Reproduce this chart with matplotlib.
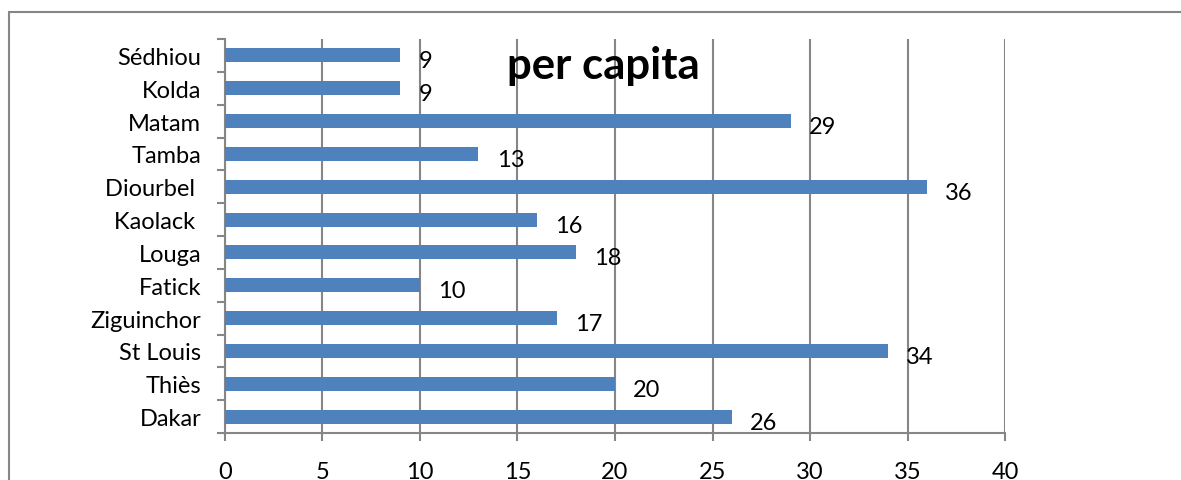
import matplotlib.pyplot as plt
import matplotlib.patches as mpatches
import numpy as np

# Regions, bottom to top as drawn
regions = ['Dakar', 'Thiès', 'St Louis', 'Ziguinchor', 'Fatick', 'Louga',
           'Kaolack ', 'Diourbel ', 'Tamba', 'Matam', 'Kolda', 'Sédhiou']
per_capita = [26, 20, 34, 17, 10, 18, 16, 36, 13, 29, 9, 9]
x_ticks = [0, 5, 10, 15, 20, 25, 30, 35, 40]

grey = '#868686'
bar_color = '#4F81BD'

plt.rcParams['font.family'] = ['Lato', 'DejaVu Sans']

fig = plt.figure(figsize=(11.81, 4.81), dpi=100)
ax = fig.add_axes([0.1905, 0.0977, 0.6605, 0.8191])

pos = np.arange(len(regions))
ax.barh(pos, per_capita, height=0.43, color=bar_color, zorder=3)

# value labels to the right of each bar
for p, v in zip(pos, per_capita):
    ax.annotate(str(v), (v, p), xytext=(13, -4), textcoords='offset points',
                ha='left', va='center', fontsize=17, color='black', zorder=4)

ax.set_xlim(0, 40)
ax.set_ylim(-0.5, len(regions) - 0.5)
ax.set_xticks(x_ticks)
ax.set_xticklabels([str(t) for t in x_ticks])

# category labels centred, tick marks on boundaries
ax.set_yticks(pos)
ax.set_yticklabels(regions)
ax.set_yticks(np.arange(-0.5, len(regions), 1), minor=True)
ax.tick_params(axis='y', which='major', length=0, pad=17, labelsize=17)
ax.tick_params(axis='y', which='minor', length=6, width=1.5, color=grey, direction='out')
ax.tick_params(axis='x', length=6, width=1.5, color=grey, pad=14, labelsize=17)

ax.grid(axis='x', color=grey, linewidth=1.5, zorder=0)
for s in ['top', 'right']:
    ax.spines[s].set_visible(False)
for s in ['left', 'bottom']:
    ax.spines[s].set_color(grey)
    ax.spines[s].set_linewidth(1.5)

ax.text(0.485, 0.935, 'per capita', transform=ax.transAxes, ha='center', va='center',
        fontsize=31.5, fontweight='bold', zorder=5)

# chart frame (left and top edges visible)
frame = mpatches.Rectangle((9 / 1181, -0.1), 1.2, 1 - 13 / 481 + 0.1,
                           transform=fig.transFigure, fill=False,
                           edgecolor=grey, linewidth=1.5, clip_on=False)
fig.patches.append(frame)

plt.savefig('out.png', dpi=100)
